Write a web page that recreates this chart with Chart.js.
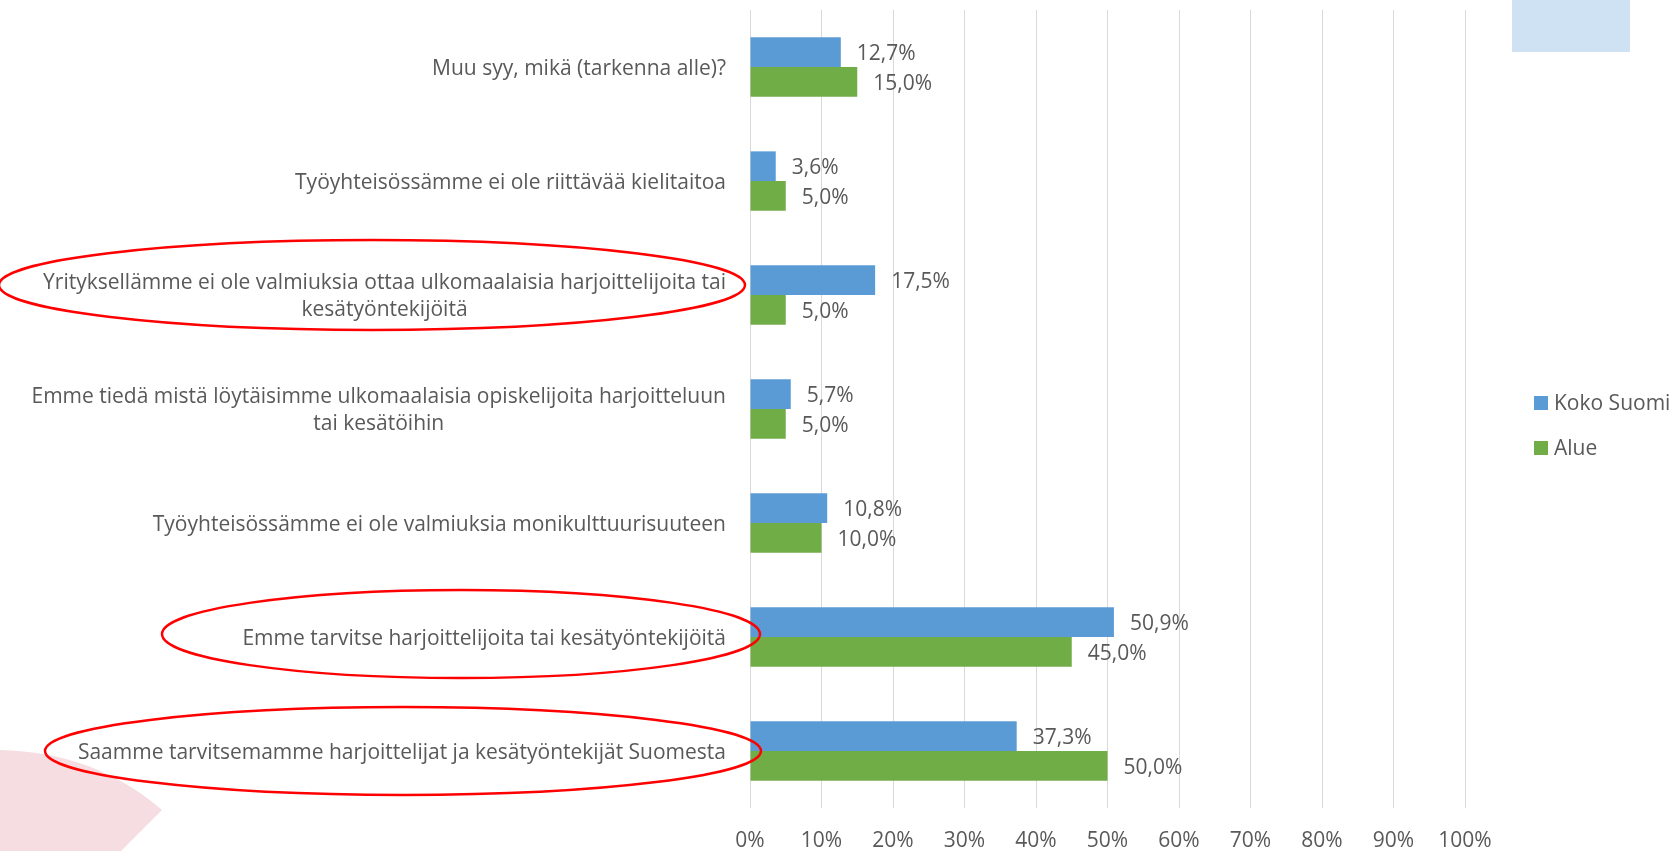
<!DOCTYPE html>
<html>
<head>
<meta charset="utf-8">
<script src="https://cdn.jsdelivr.net/npm/chart.js@4/dist/chart.umd.min.js"></script>
<style>
  body { margin: 0; background: #fff; }
  #wrap { position: relative; width: 1673px; height: 851px; }
</style>
</head>
<body>
<div id="wrap"><canvas id="chart" width="1673" height="851"></canvas></div>
<script>
// ==========================
// Data
// ==========================
const categories = [
  "Muu syy, mikä (tarkenna alle)?",
  "Työyhteisössämme ei ole riittävää kielitaitoa",
  ["Yrityksellämme ei ole valmiuksia ottaa ulkomaalaisia harjoittelijoita tai", "kesätyöntekijöitä"],
  ["Emme tiedä mistä löytäisimme ulkomaalaisia opiskelijoita harjoitteluun", "tai kesätöihin"],
  "Työyhteisössämme ei ole valmiuksia monikulttuurisuuteen",
  "Emme tarvitse harjoittelijoita tai kesätyöntekijöitä",
  "Saamme tarvitsemamme harjoittelijat ja kesätyöntekijät Suomesta"
];
const seriesNames = ["Koko Suomi", "Alue"];
const kokoSuomi = [12.7, 3.6, 17.5, 5.7, 10.8, 50.9, 37.3];
const alue = [15.0, 5.0, 5.0, 5.0, 10.0, 45.0, 50.0];
const xTicks = [0, 10, 20, 30, 40, 50, 60, 70, 80, 90, 100];
const circledRows = [2, 5, 6];

const colors = ["#5b9bd5", "#70ad47"];
const textColor = "#595959";
const fontFamily = "'Open Sans', 'Liberation Sans', sans-serif";
const fontSize = 21;

// ==========================
// Background shapes
// ==========================
const backgroundShapes = {
  id: "backgroundShapes",
  beforeDraw(chart) {
    const ctx = chart.ctx;
    ctx.save();
    ctx.fillStyle = "#cfe2f3";
    ctx.fillRect(1512, 0, 118, 52);
    ctx.fillStyle = "#f5dde2";
    ctx.beginPath();
    ctx.moveTo(0, 750);
    ctx.quadraticCurveTo(95, 752, 162, 810);
    ctx.lineTo(121, 851);
    ctx.lineTo(0, 851);
    ctx.closePath();
    ctx.fill();
    ctx.restore();
  }
};

// ==========================
// Category labels (wrapped lines centered)
// ==========================
const categoryLabels = {
  id: "categoryLabels",
  afterDraw(chart) {
    const ctx = chart.ctx;
    const yScale = chart.scales.y;
    const right = 726;
    const lineH = 27;
    ctx.save();
    ctx.font = fontSize + "px " + fontFamily;
    ctx.fillStyle = textColor;
    ctx.textBaseline = "middle";
    categories.forEach((lab, i) => {
      const lines = Array.isArray(lab) ? lab : [lab];
      const y0 = yScale.getPixelForTick(i) + 2 - (lines.length - 1) * lineH / 2;
      const maxW = Math.max(...lines.map(l => ctx.measureText(l).width));
      const cx = right - maxW / 2;
      ctx.textAlign = "center";
      lines.forEach((l, k) => ctx.fillText(l, cx, y0 + k * lineH));
    });
    ctx.restore();
  }
};

// ==========================
// Value labels
// ==========================
const valueLabels = {
  id: "valueLabels",
  afterDatasetsDraw(chart) {
    const ctx = chart.ctx;
    ctx.save();
    ctx.font = fontSize + "px " + fontFamily;
    ctx.fillStyle = textColor;
    ctx.textBaseline = "middle";
    ctx.textAlign = "left";
    chart.data.datasets.forEach((ds, d) => {
      chart.getDatasetMeta(d).data.forEach((bar, i) => {
        const txt = ds.data[i].toFixed(1).replace(".", ",") + "%";
        ctx.fillText(txt, bar.x + 16, bar.y + 2);
      });
    });
    ctx.restore();
  }
};

// ==========================
// Legend + red ellipses
// ==========================
const overlay = {
  id: "overlay",
  afterDraw(chart) {
    const ctx = chart.ctx;
    const yScale = chart.scales.y;
    ctx.save();
    // legend
    ctx.font = fontSize + "px " + fontFamily;
    ctx.textBaseline = "middle";
    ctx.textAlign = "left";
    seriesNames.forEach((name, i) => {
      const y = 403 + i * 45;
      ctx.fillStyle = colors[i];
      ctx.fillRect(1534, y - 7, 14, 14);
      ctx.fillStyle = textColor;
      ctx.fillText(name, 1554, y + 1);
    });
    // ellipses around the highlighted rows: [cx, rx, ry, dy]
    const shapes = { 2: [372, 373, 45, -10], 5: [461, 299, 44, -3], 6: [403, 358, 44, 0] };
    ctx.strokeStyle = "#ff0000";
    ctx.lineWidth = 2.5;
    circledRows.forEach(r => {
      const [cx, rx, ry, dy] = shapes[r];
      const cy = yScale.getPixelForTick(r) + dy;
      ctx.beginPath();
      ctx.ellipse(cx, cy, rx, ry, 0, 0, Math.PI * 2);
      ctx.stroke();
    });
    ctx.restore();
  }
};

new Chart(document.getElementById("chart"), {
  type: "bar",
  data: {
    labels: categories,
    datasets: [
      { label: seriesNames[0], data: kokoSuomi, backgroundColor: colors[0] },
      { label: seriesNames[1], data: alue, backgroundColor: colors[1] }
    ]
  },
  options: {
    indexAxis: "y",
    responsive: false,
    animation: false,
    layout: { padding: { top: 10, right: 208, bottom: 1, left: 0 } },
    datasets: { bar: { categoryPercentage: 0.52, barPercentage: 1 } },
    scales: {
      x: {
        min: 0,
        max: 100,
        afterBuildTicks: s => { s.ticks = xTicks.map(v => ({ value: v })); },
        afterFit: s => { s.height = 42; },
        grid: { color: "#d9d9d9", drawTicks: false },
        border: { display: false },
        ticks: {
          padding: 20,
          color: textColor,
          font: { family: fontFamily, size: fontSize },
          callback: v => v + "%"
        }
      },
      y: {
        grid: { display: false },
        border: { display: false },
        ticks: { display: false },
        afterFit: s => { s.width = 750; }
      }
    },
    plugins: {
      legend: { display: false },
      tooltip: { enabled: false }
    }
  },
  plugins: [backgroundShapes, categoryLabels, valueLabels, overlay]
});
</script>
</body>
</html>
